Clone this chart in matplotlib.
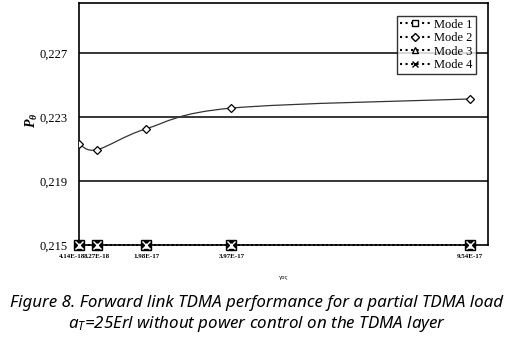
import numpy as np
import matplotlib
matplotlib.use('Agg')
import matplotlib.pyplot as plt
import matplotlib.transforms as mtrans
from matplotlib.path import Path
from matplotlib.patches import PathPatch
from matplotlib.lines import Line2D

# Datos
x_vals = [4.14e-18, 8.27e-18, 1.98e-17, 3.97e-17, 9.54e-17]
x_labels = ['4.14E-18', '8.27E-18', '1.98E-17', '3.97E-17', '9.54E-17']
mode1 = [0.215, 0.215, 0.215, 0.215, 0.215]
mode2 = [0.22133, 0.22096, 0.22227, 0.22356, 0.22413]
mode3 = [0.215, 0.215, 0.215, 0.215, 0.215]
mode4 = [0.215, 0.215, 0.215, 0.215, 0.215]
y_ticks = [0.215, 0.219, 0.223, 0.227]

plt.rcParams['mathtext.fontset'] = 'custom'
plt.rcParams['mathtext.it'] = 'Noto Sans:italic'
plt.rcParams['mathtext.rm'] = 'Noto Sans:italic'
plt.rcParams['mathtext.bf'] = 'Liberation Serif:bold:italic'

fig = plt.figure(figsize=(5.14, 3.43), dpi=100)
ax = fig.add_axes([0.1537, 0.2848, 0.7957, 0.7056])

ax.set_xlim(4.14e-18, 9.96e-17)
ax.set_ylim(0.215, 0.2301)

# lineas de la grilla
for yt in y_ticks[1:]:
    ax.axhline(yt, color='black', linewidth=1.1, zorder=1)

# curva suavizada de Mode 2 (bezier tipo Excel)
px = np.array(x_vals)
py = np.array(mode2)
verts = [(px[0], py[0])]
codes = [Path.MOVETO]
n = len(px)
for i in range(n - 1):
    p0 = i - 1 if i > 0 else i
    p3 = i + 2 if i + 2 < n else i + 1
    c1 = (px[i] + (px[i + 1] - px[p0]) / 6, py[i] + (py[i + 1] - py[p0]) / 6)
    c2 = (px[i + 1] - (px[p3] - px[i]) / 6, py[i + 1] - (py[p3] - py[i]) / 6)
    verts += [c1, c2, (px[i + 1], py[i + 1])]
    codes += [Path.CURVE4] * 3
ax.add_patch(PathPatch(Path(verts, codes), fill=False, edgecolor='#333333', linewidth=0.9, zorder=3))
ax.plot(x_vals, mode2, linestyle='none', marker='D', markersize=4.3, markerfacecolor='white',
        markeredgecolor='black', markeredgewidth=0.9, zorder=4)

# modos en 0,215
ax.plot(x_vals, mode1, linestyle=':', color='black', linewidth=1.2, marker='s', markersize=7,
        markerfacecolor='black', markeredgecolor='black', clip_on=False, zorder=5)
ax.plot(x_vals, mode3, linestyle=':', color='black', linewidth=1.2, marker='^', markersize=6,
        markerfacecolor='white', markeredgecolor='black', clip_on=False, zorder=6)
ax.plot(x_vals, mode4, linestyle=':', color='black', linewidth=1.2, marker='x', markersize=6,
        markeredgecolor='white', clip_on=False, zorder=7)

for s in ax.spines.values():
    s.set_linewidth(1.2)

ax.set_yticks(y_ticks)
ax.set_yticklabels([f'{v:.3f}'.replace('.', ',') for v in y_ticks],
                   fontfamily='Liberation Serif', fontsize=9)
ax.set_xticks(x_vals)
ax.set_xticklabels(x_labels, fontfamily='Liberation Serif', fontsize=5, fontweight='bold')
ax.tick_params(axis='y', length=0, pad=8)
ax.tick_params(axis='x', length=0, pad=6)
# la primera etiqueta va un poco a la izquierda, como en el original
lbl0 = ax.get_xticklabels()[0]
lbl0.set_transform(lbl0.get_transform() + mtrans.ScaledTranslation(-7 / 100, 0, fig.dpi_scale_trans))

ax.set_xlabel('γος', fontsize=4, fontfamily='DejaVu Sans', labelpad=12)
fig.text(0.062, 0.65, r'$\mathbf{P}_{\mathbf{\theta}}$', rotation=90, fontsize=10,
         ha='center', va='center')

handles = [
    Line2D([], [], linestyle=':', color='black', marker='s', markerfacecolor='white', markersize=5),
    Line2D([], [], linestyle=':', color='black', marker='D', markerfacecolor='white', markersize=4),
    Line2D([], [], linestyle=':', color='black', marker='^', markerfacecolor='white', markersize=5),
    Line2D([], [], linestyle=':', color='black', marker='x', markersize=5),
]
leg = ax.legend(handles, ['Mode 1', 'Mode 2', 'Mode 3', 'Mode 4'], loc='upper right',
                bbox_to_anchor=(0.985, 0.975), prop={'family': 'Liberation Serif', 'size': 9},
                frameon=True, fancybox=False, edgecolor='black', handlelength=2.4,
                borderpad=0.25, labelspacing=0.12, handletextpad=0.3)
leg.get_frame().set_linewidth(1.0)

fig.text(0.5, 0.118, 'Figure 8. Forward link TDMA performance for a partial TDMA load',
         ha='center', va='center', fontsize=12.2, fontstyle='italic', fontfamily='Noto Sans')
fig.text(0.5, 0.055, r'$a_T$=25Erl without power control on the TDMA layer',
         ha='center', va='center', fontsize=12.2, fontstyle='italic', fontfamily='Noto Sans')

fig.savefig('out.png', dpi=100)
